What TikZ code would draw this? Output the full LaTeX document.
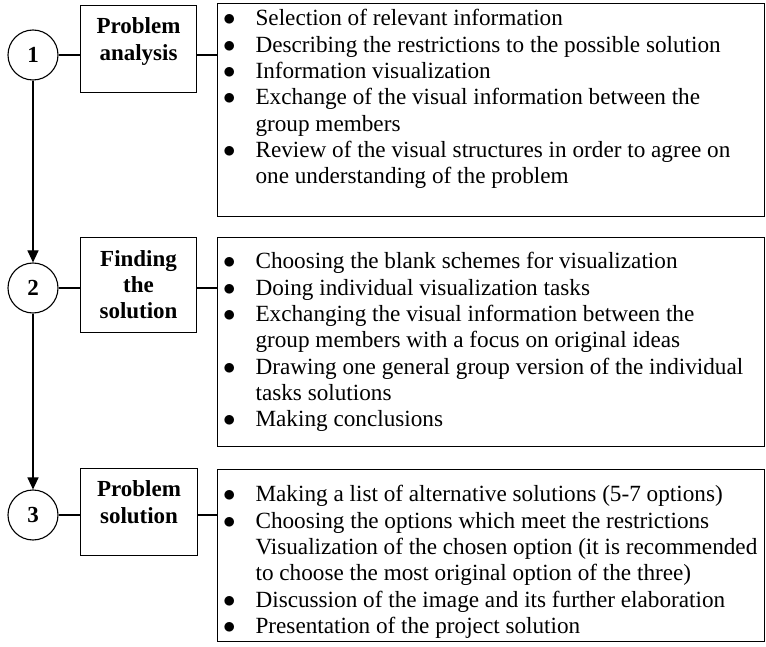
\documentclass[tikz,border=0pt]{standalone}
\usepackage{fontspec}
\setmainfont{Liberation Serif}
\usepackage{enumitem}
\usetikzlibrary{arrows.meta}
\setlist[itemize]{label=$\bullet$, leftmargin=38pt, labelsep=20pt,
  itemsep=0pt, parsep=0pt, topsep=0pt, partopsep=0pt}
\newcommand{\topalign}[3]{\begin{minipage}[c][#1][t]{#2}#3\end{minipage}}

\begin{document}
\begin{tikzpicture}[x=1pt, y=-1pt, line width=1.1pt,
  stepnum/.style = {shape=circle, draw, minimum size=50pt, inner sep=0pt,
    font=\fontsize{23}{26}\selectfont\bfseries},
  phasebox/.style = {shape=rectangle, draw, inner sep=0pt, anchor=north west,
    font=\fontsize{23}{27}\selectfont\bfseries},
  listbox/.style = {shape=rectangle, draw, inner sep=0pt, anchor=north west,
    font=\fontsize{23.2}{26.3}\selectfont},
  flow/.style = {-{Triangle[length=12pt,width=11pt]}}]
  \useasboundingbox (0,0) rectangle (766,647);

  % steps
  \node[stepnum] (c1) at (33,55) {1};
  \node[stepnum] (c2) at (33,288) {2};
  \node[stepnum] (c3) at (33,515) {3};

  % phases
  \node[phasebox] (b1) at (80,5) {\topalign{87pt}{116pt}{\vspace*{12pt}\centering
    Problem\\analysis}};
  \node[phasebox] (b2) at (80,237) {\topalign{95pt}{116pt}{\vspace*{13pt}\centering
    Finding\\[-1pt]the\\[-1pt]solution}};
  \node[phasebox] (b3) at (80,468) {\topalign{87pt}{117pt}{\vspace*{12pt}\centering
    Problem\\solution}};

  % activities
  \node[listbox] (t1) at (217,3) {\topalign{213pt}{547pt}{\vspace*{6pt}\raggedright
    \begin{itemize}
    \item Selection of relevant information
    \item Describing the restrictions to the possible solution
    \item Information visualization
    \item Exchange of the visual information between the\\group members
    \item Review of the visual structures in order to agree on\\one understanding of the problem
    \end{itemize}}};
  \node[listbox] (t2) at (217,237) {\topalign{209pt}{547pt}{\vspace*{15pt}\raggedright
    \begin{itemize}
    \item Choosing the blank schemes for visualization
    \item Doing individual visualization tasks
    \item Exchanging the visual information between the\\group members with a focus on original ideas
    \item Drawing one general group version of the individual\\tasks solutions
    \item Making conclusions
    \end{itemize}}};
  \node[listbox] (t3) at (217,469) {\topalign{172pt}{547pt}{\vspace*{16pt}\raggedright
    \begin{itemize}
    \item Making a list of alternative solutions (5-7 options)
    \item Choosing the options which meet the restrictions
    \item[] Visualization of the chosen option (it is recommended\\to choose the most original option of the three)
    \item Discussion of the image and its further elaboration
    \item Presentation of the project solution
    \end{itemize}}};

  % connectors
  \draw (c1) -- (b1.west |- c1);
  \draw (b1.east |- c1) -- (t1.west |- c1);
  \draw (c2) -- (b2.west |- c2);
  \draw (b2.east |- c2) -- (t2.west |- c2);
  \draw (c3) -- (b3.west |- c3);
  \draw (b3.east |- c3) -- (t3.west |- c3);
  \draw[flow] (c1) -- (c2);
  \draw[flow] (c2) -- (c3);
\end{tikzpicture}
\end{document}
